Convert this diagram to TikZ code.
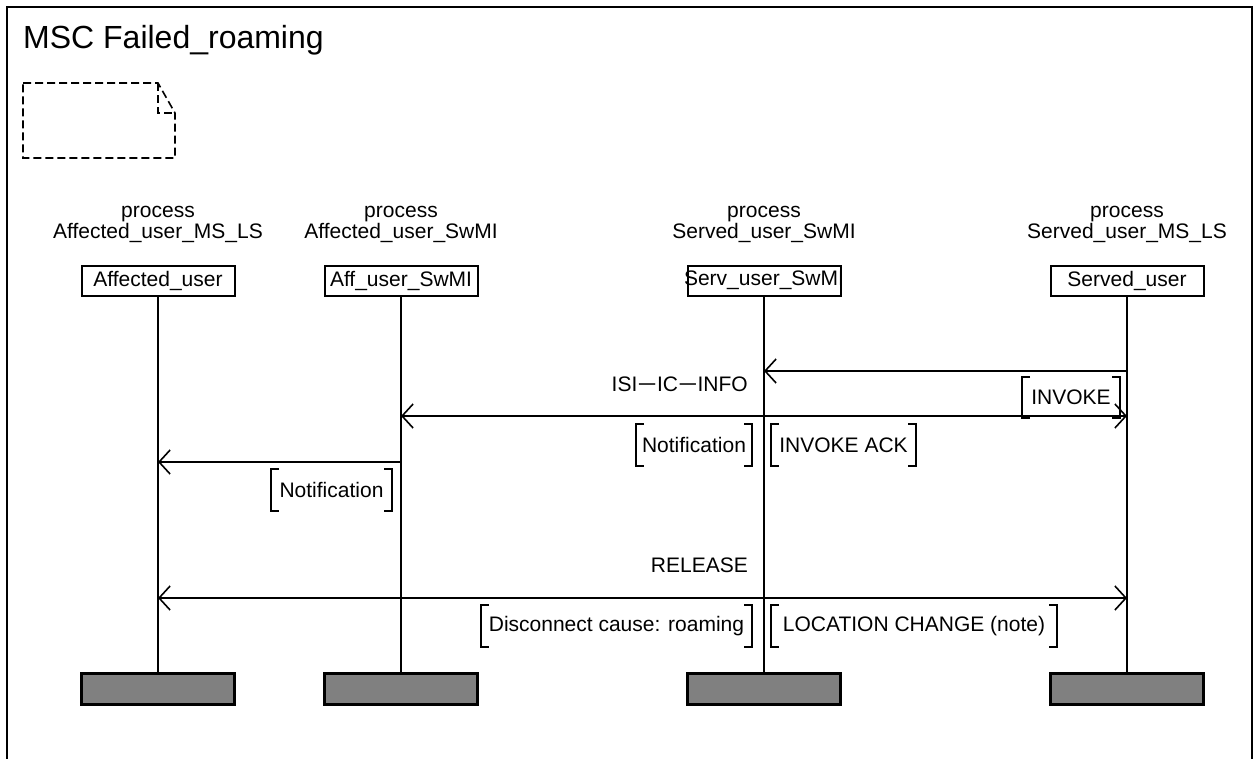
\documentclass[tikz,border=0pt]{standalone}
\usepackage{fontspec}
\setmainfont{Liberation Sans}
\usetikzlibrary{arrows.meta}
\newcommand{\wminus}{\scalebox{1.6}[1]{−}}
\begin{document}
\begin{tikzpicture}[x=1pt,y=-1pt,
  txt/.style={font=\fontsize{21}{20}\selectfont, inner sep=0pt},
  proc/.style={font=\fontsize{21}{21}\selectfont, inner sep=0pt, align=center},
  headbox/.style={draw, line width=2pt, minimum width=153pt, minimum height=30pt, inner sep=0pt, font=\fontsize{21}{25}\selectfont},
  endbox/.style={draw, line width=2.2pt, fill=black!50, minimum width=153pt, minimum height=31pt, inner sep=0pt},
  life/.style={line width=1.8pt},
  msg/.style={line width=1.8pt, -{Straight Barb[length=11pt,width=24pt,line width=1.6pt]}},
  msgboth/.style={line width=1.8pt, {Straight Barb[length=11pt,width=24pt,line width=1.6pt]}-{Straight Barb[length=11pt,width=24pt,line width=1.6pt]}},
  brk/.style={line width=1.8pt}
]
\useasboundingbox (0,0) rectangle (1253,758);
\begin{scope}
\clip (0,0) rectangle (1253,758);
\draw[line width=2.4pt] (7,800) -- (7,7) -- (1252.5,7) -- (1252.5,800);
\end{scope}
\node[anchor=base west, inner sep=0pt, font=\fontsize{32}{36}\selectfont] (title) at (23,48) {MSC Failed\_roaming};
% note symbol
\draw[line width=1.6pt, dash pattern=on 8pt off 4pt] (23,83) -- (158,83) -- (175,113) -- (175,158) -- (23,158) -- cycle;
\draw[line width=1.6pt, dash pattern=on 8pt off 4pt] (158,83) -- (158,113) -- (175,113);
% heads
\foreach \n/\x/\p/\l in {a/158/Affected\_user\_MS\_LS/Affected\_user, b/401/Affected\_user\_SwMI/Aff\_user\_SwMI, c/764/Served\_user\_SwMI/Serv\_user\_SwMI, d/1127/Served\_user\_MS\_LS/Served\_user}{
  \node[proc] (p\n) at (\x,224) {process\\\p};
  \node[headbox] (h\n) at (\x,280.5) {\makebox[0pt]{\l}};
  \node[endbox] (e\n) at (\x,689) {};
  \draw[life] (h\n.south) -- (e\n.north);
}
% messages
\coordinate (m1r) at (1127,371); \coordinate (m1l) at (764,371);
\draw[msg] (m1r) -- (m1l);
\coordinate (m2l) at (401,416); \coordinate (m2r) at (1127,416);
\draw[msgboth] (m2l) -- (m2r);
\coordinate (m3r) at (401,462); \coordinate (m3l) at (158,462);
\draw[msg] (m3r) -- (m3l);
\coordinate (m4l) at (158,598); \coordinate (m4r) at (1127,598);
\draw[msgboth] (m4l) -- (m4r);
% labels
\node[txt, anchor=east] (lisi) at (748,384) {ISI\wminus IC\wminus INFO};
\node[txt, anchor=east] (lrel) at (748,565) {RELEASE};
% bracketed labels
\newcommand{\brlabel}[6]{% name, left, right, top, bottom, text
  \node[txt] (#1) at ({(#2+#3)/2},{(#4+#5)/2}) {#6};
  \draw[brk] (#2+8,#4) -- (#2,#4) -- (#2,#5) -- (#2+8,#5);
  \draw[brk] (#3-8,#4) -- (#3,#4) -- (#3,#5) -- (#3-8,#5);
}
\brlabel{binv}{1022}{1120}{377}{418}{INVOKE}
\brlabel{bnot1}{636}{752}{424}{466}{Notification}
\brlabel{back}{771}{916}{424}{466}{INVOKE ACK}
\brlabel{bnot2}{271}{392}{469}{511}{Notification}
\brlabel{bdis}{481}{752}{605}{647}{Disconnect cause: roaming}
\brlabel{bloc}{771}{1057}{605}{647}{LOCATION CHANGE (note)}
\end{tikzpicture}
\end{document}
